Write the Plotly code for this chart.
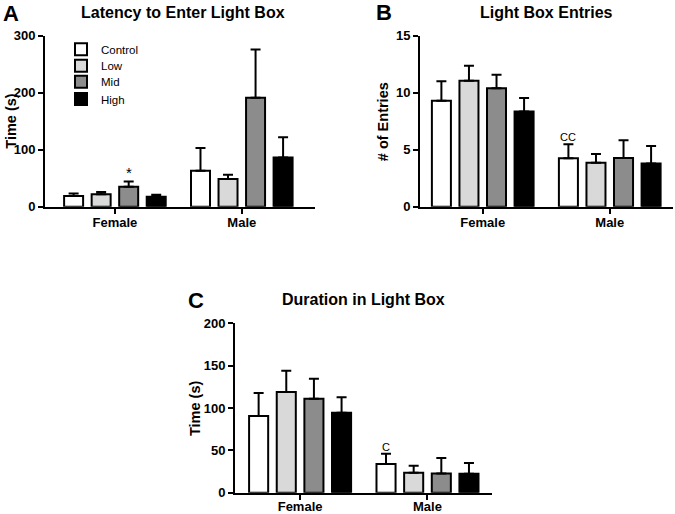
import plotly.graph_objects as go

# ---------------- data ----------------
sexes = ["Female", "Male"]
groups = ["Control", "Low", "Mid", "High"]
colors = ["#ffffff", "#d9d9d9", "#8c8c8c", "#000000"]

# values per group: [Female, Male]
latency_means = [[18.7, 63.0], [22.0, 48.5], [35.0, 191.0], [17.5, 86.5]]
latency_sem = [[4.5, 40.0], [4.0, 7.5], [9.0, 85.0], [3.5, 35.5]]

entries_means = [[9.3, 4.24], [11.05, 3.86], [10.4, 4.27], [8.36, 3.8]]
entries_sem = [[1.7, 1.23], [1.32, 0.76], [1.18, 1.55], [1.17, 1.52]]

duration_means = [[90.6, 33.9], [118.9, 23.6], [111.0, 22.8], [94.5, 22.4]]
duration_sem = [[27.1, 12.1], [25.2, 8.3], [23.6, 18.2], [18.1, 12.6]]

latency_ticks = [0, 100, 200, 300]
entries_ticks = [0, 5, 10, 15]
duration_ticks = [0, 50, 100, 150, 200]

# ---------------- figure ----------------
W, H = 675, 514
FONT = "Arial, Liberation Sans, Helvetica, sans-serif"
BARGAP = 0.132
SLOT = (1 - BARGAP) / len(groups)
LEGEND_IDS = ["legend", "legend2", "legend3", "legend4"]

fig = go.Figure()

panels = [
    ("x", "y", latency_means, latency_sem, True),
    ("x2", "y2", entries_means, entries_sem, False),
    ("x3", "y3", duration_means, duration_sem, False),
]

for xa, ya, means, sems, show in panels:
    for i, g in enumerate(groups):
        fig.add_trace(go.Bar(
            x=sexes, y=means[i], name=g, legendgroup=g, showlegend=show,
            legend=LEGEND_IDS[i],
            xaxis=xa, yaxis=ya,
            marker=dict(color=colors[i], line=dict(color="black", width=2)),
            error_y=dict(type="data", array=sems[i], arrayminus=[0, 0],
                         symmetric=False, color="black", thickness=2, width=5),
        ))


def px_x(p):
    return p / W


def px_y(p):
    return 1 - p / H


axis_common = dict(showline=True, linewidth=2, linecolor="black", ticks="outside",
                   ticklen=5, tickwidth=2, tickcolor="black", showgrid=False,
                   zeroline=False, fixedrange=True, automargin=False,
                   tickfont=dict(family=FONT, size=13, color="black", weight="bold"))

legend_rows = [49.3, 65.7, 81.7, 99.0]
legends = {}
for lid, row in zip(LEGEND_IDS, legend_rows):
    legends[lid] = dict(x=px_x(61), y=px_y(row), xanchor="left", yanchor="middle",
                        bgcolor="rgba(0,0,0,0)", borderwidth=0,
                        font=dict(family=FONT, size=11.5, color="black"))

fig.update_layout(
    width=W, height=H, margin=dict(l=0, r=0, t=0, b=0, pad=0, autoexpand=False),
    paper_bgcolor="white", plot_bgcolor="white",
    barmode="group", bargap=BARGAP, bargroupgap=0.31,
    showlegend=True, hovermode=False,
    xaxis=dict(domain=[px_x(45), px_x(315)], range=[-0.551, 1.577], anchor="y",
               ticklabelstandoff=-2, **axis_common),
    yaxis=dict(domain=[px_y(206.7), px_y(35.7)], range=[0, 300], tickvals=latency_ticks,
               anchor="x", **axis_common),
    xaxis2=dict(domain=[px_x(420), px_x(673)], range=[-0.494, 1.498], anchor="y2",
                ticklabelstandoff=-2, **axis_common),
    yaxis2=dict(domain=[px_y(206.7), px_y(35.7)], range=[0, 15], tickvals=entries_ticks,
                anchor="x2", **axis_common),
    xaxis3=dict(domain=[px_x(235), px_x(491.7)], range=[-0.511, 1.504], anchor="y3",
                ticklabelstandoff=-4, **axis_common),
    yaxis3=dict(domain=[px_y(492.7), px_y(323.3)], range=[0, 200], tickvals=duration_ticks,
                anchor="x3", **axis_common),
    **legends,
)

ann = []
bold = dict(family=FONT, color="black", weight="bold")
# panel letters and titles
for letter, lx, ly, title, tx, ty in [
    ("A", 11, 13.5, "Latency to Enter Light Box", 183, 12.5),
    ("B", 383.5, 12.5, "Light Box Entries", 546.7, 12),
    ("C", 196, 300, "Duration in Light Box", 364, 299),
]:
    ann.append(dict(text=letter, x=px_x(lx), y=px_y(ly), xref="paper", yref="paper",
                    showarrow=False, xanchor="center", yanchor="middle",
                    font=dict(size=22, **bold)))
    ann.append(dict(text=title, x=px_x(tx), y=px_y(ty), xref="paper", yref="paper",
                    showarrow=False, xanchor="center", yanchor="middle",
                    font=dict(size=16, **bold)))
# y axis titles
for text, x, y in [("Time (s)", 11.5, 121.2), ("# of Entries", 383, 121.2), ("Time (s)", 195, 408)]:
    ann.append(dict(text=text, x=px_x(x), y=px_y(y), xref="paper", yref="paper",
                    showarrow=False, textangle=-90, xanchor="center", yanchor="middle",
                    font=dict(size=14.5, **bold)))

# significance marks
sig = [("x", "y", 0, 2, "*", latency_means, latency_sem, 15),
       ("x2", "y2", 1, 0, "CC", entries_means, entries_sem, 11),
       ("x3", "y3", 1, 0, "C", duration_means, duration_sem, 11)]
for xa, ya, si, gi, txt, means, sems, fs in sig:
    ann.append(dict(text=txt, x=si + (gi - 1.5) * SLOT, y=means[gi][si] + sems[gi][si],
                    xref=xa, yref=ya, showarrow=False, xanchor="center", yanchor="bottom",
                    yshift=-1, font=dict(family=FONT, size=fs, color="black")))

fig.update_layout(annotations=ann)
fig.write_html("out.html", config=dict(displayModeBar=False, staticPlot=True),
               post_script="document.body.style.margin='0';document.body.style.overflow='hidden';")
